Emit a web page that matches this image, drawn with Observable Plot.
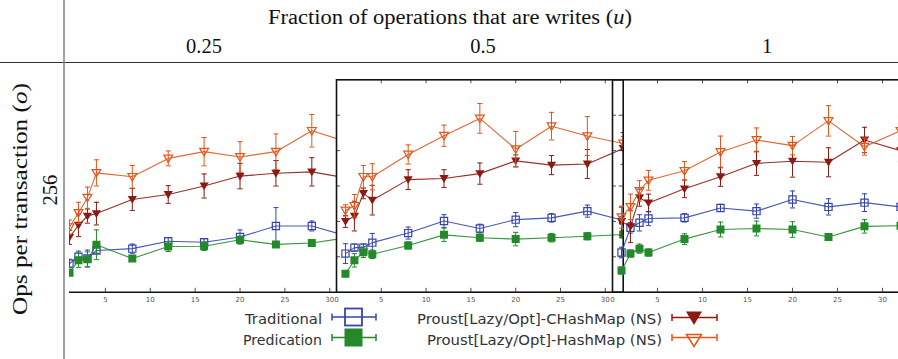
<!DOCTYPE html>
<html><head><meta charset="utf-8">
<script src="https://cdn.jsdelivr.net/npm/d3@7"></script>
<script src="https://cdn.jsdelivr.net/npm/@observablehq/plot@0.6"></script>
<style>
html,body{margin:0;padding:0;background:#fff;}
#wrap{position:relative;width:898px;height:359px;overflow:hidden;background:#fff;}
#wrap > svg{position:absolute;left:0;top:0;}
</style></head><body><div id="wrap"></div>
<script>
// ---------------- data ----------------
const xs = [1, 2, 3, 4, 8, 12, 16, 20, 24, 28, 32];
const panels = ["0.25", "0.5", "1"];
const seriesNames = ["Traditional", "Predication", "Proust[Lazy/Opt]-CHashMap (NS)", "Proust[Lazy/Opt]-HashMap (NS)"];
const xTickValues = [0, 5, 10, 15, 20, 25, 30];
const yTickValues = [1, 2, 3, 4, 5];
const rowLabel = "256";

// u = 0.25
const trad025 = [0.81, 1.00, 0.95, 1.18, 1.23, 1.44, 1.41, 1.56, 1.87, 1.87, 1.58];
const tradErr025 = [0.12, 0.16, 0.24, 0.08, 0.13, 0.10, 0.10, 0.20, 0.52, 0.14, 0.10];
const pred025 = [0.55, 0.90, 0.93, 1.34, 0.95, 1.29, 1.30, 1.48, 1.35, 1.39, 1.54];
const predErr025 = [0.08, 0.20, 0.21, 0.42, 0.06, 0.14, 0.12, 0.10, 0.08, 0.08, 0.08];
const chash025 = [1.55, 1.89, 2.15, 2.22, 2.62, 2.76, 3.00, 3.28, 3.36, 3.40, 3.22];
const chashErr025 = [0.20, 0.32, 0.20, 0.32, 0.31, 0.25, 0.34, 0.36, 0.36, 0.40, 0.30];
const hash025 = [1.84, 2.24, 2.67, 3.37, 3.26, 3.78, 3.97, 3.82, 3.97, 4.56, 4.24];
const hashErr025 = [0.20, 0.30, 0.30, 0.37, 0.32, 0.21, 0.40, 0.43, 0.50, 0.46, 0.30];
// u = 0.5
const trad05 = [1.09, 1.26, 1.26, 1.40, 1.67, 2.01, 1.80, 2.05, 2.10, 2.29, 2.03];
const tradErr05 = [0.28, 0.10, 0.10, 0.26, 0.17, 0.18, 0.12, 0.20, 0.12, 0.17, 0.12];
const pred05 = [0.52, 0.90, 1.13, 1.07, 1.32, 1.62, 1.54, 1.50, 1.54, 1.58, 1.63];
const predErr05 = [0.08, 0.19, 0.15, 0.12, 0.10, 0.19, 0.10, 0.19, 0.12, 0.10, 0.10];
const chash05 = [2.00, 2.15, 2.79, 2.60, 3.18, 3.21, 3.35, 3.71, 3.59, 3.62, 4.06];
const chashErr05 = [0.17, 0.42, 0.15, 0.42, 0.28, 0.25, 0.30, 0.17, 0.27, 0.41, 0.45];
const hash05 = [2.31, 2.44, 3.26, 3.26, 3.89, 4.42, 4.91, 4.04, 4.69, 4.41, 4.20];
const hashErr05 = [0.16, 0.32, 0.32, 0.37, 0.27, 0.30, 0.42, 0.50, 0.39, 0.55, 0.20];
// u = 1
const trad1 = [1.12, 1.82, 1.96, 2.08, 2.10, 2.38, 2.29, 2.62, 2.41, 2.53, 2.41];
const tradErr1 = [0.15, 0.15, 0.23, 0.20, 0.12, 0.10, 0.20, 0.24, 0.23, 0.25, 0.15];
const pred1 = [0.61, 1.09, 1.23, 1.12, 1.50, 1.77, 1.80, 1.77, 1.56, 1.86, 1.88];
const predErr1 = [0.10, 0.10, 0.13, 0.10, 0.15, 0.21, 0.21, 0.22, 0.07, 0.19, 0.10];
const chash1 = [2.00, 1.85, 2.67, 2.52, 2.92, 3.26, 3.64, 3.70, 3.67, 4.30, 4.00];
const chashErr1 = [0.40, 0.45, 0.24, 0.25, 0.25, 0.27, 0.34, 0.45, 0.41, 0.36, 0.30];
const hash1 = [2.12, 2.41, 2.86, 3.16, 3.43, 3.96, 4.30, 4.14, 4.84, 4.11, 4.56];
const hashErr1 = [0.31, 0.36, 0.29, 0.28, 0.26, 0.45, 0.34, 0.26, 0.43, 0.24, 0.20];

// ---------------- styling ----------------
const colors = ["#3545ad", "#23892a", "#8b1a12", "#e0561c"];
const squareSym = {draw(c, size) { const r = Math.sqrt(size / Math.PI); c.rect(-r, -r, 2 * r, 2 * r); }};
const triSym = {draw(c, size) { const r = Math.sqrt(size / Math.PI); c.moveTo(-r, -r * 0.75); c.lineTo(r, -r * 0.75); c.lineTo(0, r * 0.95); c.closePath(); }};
const capSym = {draw(c, size) { const r = Math.sqrt(size / Math.PI); c.moveTo(-r, 0); c.lineTo(r, 0); }};
const seriesStyle = [
  {symbol: squareSym, fill: "none", stroke: colors[0], r: 3.6},
  {symbol: squareSym, fill: colors[1], stroke: "none", r: 4},
  {symbol: triSym, fill: colors[2], stroke: "none", r: 4.6},
  {symbol: triSym, fill: "none", stroke: colors[3], r: 4.4}
];
const valueSets = {
  "0.25": [[trad025, tradErr025], [pred025, predErr025], [chash025, chashErr025], [hash025, hashErr025]],
  "0.5": [[trad05, tradErr05], [pred05, predErr05], [chash05, chashErr05], [hash05, hashErr05]],
  "1": [[trad1, tradErr1], [pred1, predErr1], [chash1, chashErr1], [hash1, hashErr1]]
};
const layout = {
  "0.25": {left: 69, right: 336, domain: [1, 30.75], svgW: 898, ticks: [5, 10, 15, 20, 25, 30], frame: false, rightTicks: false},
  "0.5": {left: 336, right: 622.7, domain: [0, 32], svgW: 898, ticks: xTickValues, frame: true, rightTicks: true},
  "1": {left: 612, right: 900, domain: [0, 32], svgW: 910, ticks: xTickValues, frame: true, rightTicks: false}
};
const TOP = 79.3, BOTTOM = 291.7, H = 359;
const sans = "'DejaVu Sans', Verdana, sans-serif";
const serif = "'Liberation Serif', 'DejaVu Serif', serif";

const wrap = document.getElementById("wrap");
const NS = "http://www.w3.org/2000/svg";
function el(tag, attrs, parent) { const e = document.createElementNS(NS, tag); for (const k in attrs) e.setAttribute(k, attrs[k]); if (parent) parent.appendChild(e); return e; }

// ---------------- panels ----------------
for (const p of panels) {
  const L = layout[p];
  const rows = [];
  valueSets[p].forEach(([vals, errs], s) => {
    xs.forEach((x, i) => rows.push({s, x, y: vals[i], lo: vals[i] - errs[i], hi: vals[i] + errs[i]}));
  });
  const marks = [];
  const clip = true;
  seriesNames.forEach((name, s) => {
    const d = rows.filter(r => r.s === s);
    const st = seriesStyle[s];
    marks.push(Plot.line(d, {x: "x", y: "y", stroke: colors[s], strokeWidth: 1.1, strokeOpacity: 0.9, clip}));
    marks.push(Plot.ruleX(d, {x: "x", y1: "lo", y2: "hi", stroke: colors[s], strokeWidth: 1, clip}));
    marks.push(Plot.dot(d, {x: "x", y: "lo", symbol: capSym, r: 2.6, stroke: colors[s], strokeWidth: 1, clip}));
    marks.push(Plot.dot(d, {x: "x", y: "hi", symbol: capSym, r: 2.6, stroke: colors[s], strokeWidth: 1, clip}));
    marks.push(Plot.dot(d, {x: "x", y: "y", symbol: st.symbol, r: st.r, fill: st.fill, stroke: st.stroke, strokeWidth: 1.2, clip}));
  });
  const inner = L.ticks.filter(t => t > 0);
  marks.push(Plot.ruleX(inner, {x: d => d, y1: 0, y2: 0.11, stroke: "#222", strokeWidth: 0.8}));
  if (L.frame) {
    marks.push(Plot.ruleX(inner, {x: d => d, y1: 5.89, y2: 6, stroke: "#222", strokeWidth: 0.8}));
    marks.push(Plot.ruleY(yTickValues, {y: d => d, x1: 0, x2: 0.45, stroke: "#222", strokeWidth: 0.8}));
    if (L.rightTicks) marks.push(Plot.ruleY(yTickValues, {y: d => d, x1: 31.55, x2: 32, stroke: "#222", strokeWidth: 0.8}));
    marks.push(Plot.frame({stroke: "#111", strokeWidth: 1.6}));
  } else {
    marks.push(Plot.ruleY([0], {stroke: "#111", strokeWidth: 1.6}));
  }
  marks.push(Plot.text(L.ticks, {x: d => d, y: 0, dy: 7.5, text: d => String(d), fontSize: 7, fill: "#555", fontFamily: sans}));
  const svg = Plot.plot({
    width: L.svgW, height: H,
    marginLeft: L.left, marginRight: L.svgW - L.right, marginTop: TOP, marginBottom: H - BOTTOM,
    x: {domain: L.domain, axis: null},
    y: {domain: [0, 6], axis: null},
    style: {background: "none", maxWidth: "none", overflow: "visible"},
    marks
  });
  wrap.appendChild(svg);
}

// ---------------- header, row label, legend ----------------
const deco = el("svg", {width: 898, height: 359, viewBox: "0 0 898 359"});
wrap.appendChild(deco);
el("line", {x1: 0, x2: 898, y1: 62.5, y2: 62.5, stroke: "#333", "stroke-width": 1.2}, deco);
el("line", {x1: 64, x2: 64, y1: 0, y2: 359, stroke: "#777", "stroke-width": 1.4}, deco);

function stretch(t, target) {
  t.setAttribute("textLength", target);
  t.setAttribute("lengthAdjust", "spacingAndGlyphs");
}
function mathText(parent, x, y, before, varName, after, size, target) {
  const t = el("text", {x, y, "text-anchor": "middle", "font-family": serif, "font-size": size, fill: "#111"}, parent);
  const a = el("tspan", {}, t); a.textContent = before;
  const b = el("tspan", {"font-style": "italic"}, t); b.textContent = varName;
  const c = el("tspan", {}, t); c.textContent = after;
  if (target) stretch(t, target);
  return t;
}
mathText(deco, 450, 24, "Fraction of operations that are writes (", "u", ")", 20.5, 364);
const colX = [204, 483, 767];
panels.forEach((p, i) => {
  const t = el("text", {x: colX[i], y: 53, "text-anchor": "middle", "font-family": serif, "font-size": 20.5, fill: "#111"}, deco);
  t.textContent = p;
});
const g1 = el("g", {transform: "translate(57,190) rotate(-90)"}, deco);
const rl = el("text", {x: 0, y: 0, "text-anchor": "middle", "font-family": serif, "font-size": 20.5, fill: "#111"}, g1);
rl.textContent = rowLabel;
const g2 = el("g", {transform: "translate(27,199) rotate(-90)"}, deco);
mathText(g2, 0, 0, "Ops per transaction (", "o", ")", 20.5, 232);

// legend
const legend = [
  {name: seriesNames[0], s: 0, tx: 322, ty: 324, w: 77, lx1: 332, lx2: 376, ly: 317},
  {name: seriesNames[1], s: 1, tx: 322, ty: 345, w: 79, lx1: 332, lx2: 376, ly: 337.5},
  {name: seriesNames[2], s: 2, tx: 662, ty: 324, w: 245, lx1: 672, lx2: 717, ly: 317.5},
  {name: seriesNames[3], s: 3, tx: 662, ty: 345, w: 235, lx1: 672, lx2: 717, ly: 337.5}
];
legend.forEach(l => {
  const t = el("text", {x: l.tx - l.w, y: l.ty, "text-anchor": "start", "font-family": sans, "font-size": 14, fill: "#333"}, deco);
  t.textContent = l.name;
  stretch(t, l.w);
  const c = colors[l.s];
  el("line", {x1: l.lx1, x2: l.lx2, y1: l.ly, y2: l.ly, stroke: c, "stroke-width": 1.5}, deco);
  el("line", {x1: l.lx1, x2: l.lx1, y1: l.ly - 3.5, y2: l.ly + 3.5, stroke: c, "stroke-width": 1.5}, deco);
  el("line", {x1: l.lx2, x2: l.lx2, y1: l.ly - 3.5, y2: l.ly + 3.5, stroke: c, "stroke-width": 1.5}, deco);
  const cx = (l.lx1 + l.lx2) / 2 - 0.5;
  if (l.s === 0) el("rect", {x: cx - 8.5, y: l.ly - 8.5, width: 17, height: 17, fill: "none", stroke: c, "stroke-width": 1.8}, deco);
  if (l.s === 1) el("rect", {x: cx - 9, y: l.ly - 9, width: 18, height: 18, fill: c}, deco);
  if (l.s === 2) el("path", {d: `M${cx - 8},${l.ly - 6}L${cx + 8},${l.ly - 6}L${cx},${l.ly + 7.5}Z`, fill: c}, deco);
  if (l.s === 3) el("path", {d: `M${cx - 7.5},${l.ly - 3}L${cx + 7.5},${l.ly - 3}L${cx},${l.ly + 9}Z`, fill: "none", stroke: c, "stroke-width": 1.5}, deco);
});
</script>
</body></html>
